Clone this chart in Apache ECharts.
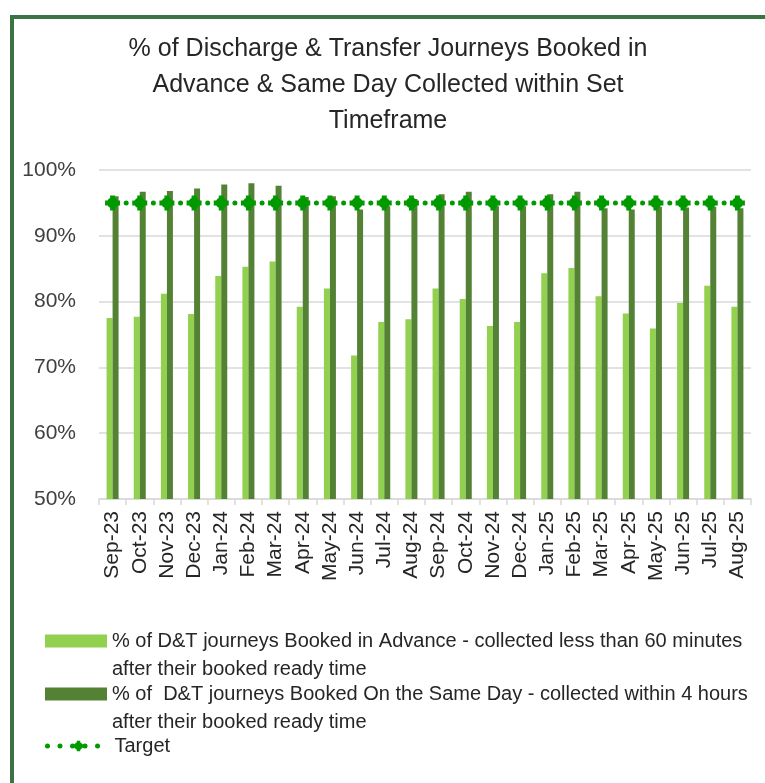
<!DOCTYPE html>
<html>
<head>
<meta charset="utf-8">
<title>D&amp;T Journeys Collected within Set Timeframe</title>
<script src="https://cdn.jsdelivr.net/npm/echarts@6/dist/echarts.min.js"></script>
<style>
  html, body { margin: 0; padding: 0; background: #fff; }
  #frame {
    position: absolute; left: 10px; top: 15px; width: 800px; height: 800px;
    border-left: 4px solid #3b7443; border-top: 4px solid #3b7443;
  }
  #chart { position: absolute; left: 0; top: 0; width: 765px; height: 783px; }
</style>
</head>
<body>
<div id="frame"></div>
<div id="chart"></div>
<script>
// months on the x axis
const months = ['Sep-23', 'Oct-23', 'Nov-23', 'Dec-23', 'Jan-24', 'Feb-24', 'Mar-24', 'Apr-24',
  'May-24', 'Jun-24', 'Jul-24', 'Aug-24', 'Sep-24', 'Oct-24', 'Nov-24', 'Dec-24',
  'Jan-25', 'Feb-25', 'Mar-25', 'Apr-25', 'May-25', 'Jun-25', 'Jul-25', 'Aug-25'];

// % booked in advance, collected < 60 mins
const advance = [77.5, 77.7, 81.2, 78.1, 83.9, 85.3, 86.1, 79.2, 82.0, 71.8, 76.9, 77.3,
  82.0, 80.4, 76.3, 76.9, 84.3, 85.1, 80.8, 78.2, 75.9, 79.8, 82.4, 79.2];

// % booked same day, collected within 4 hours
const sameDay = [96.0, 96.7, 96.8, 97.2, 97.8, 98.0, 97.6, 95.9, 96.0, 94.0, 94.5, 95.6,
  96.3, 96.7, 94.5, 94.5, 96.3, 96.7, 94.2, 94.0, 94.4, 94.3, 94.4, 94.2];

// target
const target = [95, 95, 95, 95, 95, 95, 95, 95, 95, 95, 95, 95,
  95, 95, 95, 95, 95, 95, 95, 95, 95, 95, 95, 95];

const nameAdvance = '% of D&T journeys Booked in Advance - collected less than 60 minutes\nafter their booked ready time';
const nameSameDay = '% of  D&T journeys Booked On the Same Day - collected within 4 hours\nafter their booked ready time';
const nameTarget = 'Target';

const font = '"Liberation Sans", Arial, sans-serif';
const markerPath = 'path://M6,1.5 A4.5,4.5 0 1,1 5.99,1.5 Z M4,0 H8 V4 H12 V8 H8 V12 H4 V8 H0 V4 H4 Z';

const chart = echarts.init(document.getElementById('chart'));

const legendBase = {
  orient: 'vertical',
  left: 45,
  padding: 0,
  itemWidth: 62,
  itemHeight: 13,
  itemGap: 0,
  selectedMode: false,
  textStyle: { fontFamily: font, fontSize: 20, color: '#262626', lineHeight: 28 }
};

const option = {
  animation: false,
  title: {
    text: '% of Discharge & Transfer Journeys Booked in\nAdvance & Same Day Collected within Set\nTimeframe',
    left: 383,
    top: 26,
    textAlign: 'center',
    textStyle: { fontFamily: font, fontSize: 25, fontWeight: 'normal', color: '#262626', lineHeight: 36 }
  },
  legend: [
    Object.assign({}, legendBase, {
      top: 599,
      icon: 'rect',
      // blank first line keeps the icon level with the first text line
      formatter: name => '\n' + name,
      data: [nameAdvance]
    }),
    Object.assign({}, legendBase, {
      top: 652,
      icon: 'rect',
      formatter: name => '\n' + name,
      data: [nameSameDay]
    }),
    Object.assign({}, legendBase, {
      top: 732,
      lineStyle: { width: 5, type: [0.01, 12.5], cap: 'round', color: '#009a00' },
      data: [nameTarget]
    })
  ],
  grid: { left: 99, right: 14, top: 170, bottom: 284, containLabel: false },
  xAxis: {
    type: 'category',
    data: months,
    boundaryGap: true,
    axisLine: { lineStyle: { color: '#d9d9d9', width: 1.5 } },
    axisTick: { show: true, interval: 0, length: 6, lineStyle: { color: '#d9d9d9', width: 1.5 } },
    axisLabel: { interval: 0, rotate: 90, margin: 12, fontFamily: font, fontSize: 21, color: '#262626' }
  },
  yAxis: {
    type: 'value',
    min: 50,
    max: 100,
    interval: 10,
    axisLine: { show: false },
    axisTick: { show: false },
    splitLine: { lineStyle: { color: '#d9d9d9', width: 1.5 } },
    axisLabel: { formatter: '{value}%', margin: 23, fontFamily: font, fontSize: 21, color: '#404040' }
  },
  series: [
    {
      name: nameAdvance,
      type: 'bar',
      data: advance,
      barWidth: 6,
      barGap: '0%',
      itemStyle: { color: '#92d050' }
    },
    {
      name: nameSameDay,
      type: 'bar',
      data: sameDay,
      barWidth: 6,
      barGap: '0%',
      itemStyle: { color: '#548235' }
    },
    {
      name: nameTarget,
      type: 'line',
      data: target,
      symbol: markerPath,
      symbolSize: 15,
      itemStyle: { color: '#009a00' },
      lineStyle: { color: '#009a00', width: 5, type: [0.01, 13.58], cap: 'round' },
      z: 5
    }
  ]
};

chart.setOption(option);
</script>
</body>
</html>
